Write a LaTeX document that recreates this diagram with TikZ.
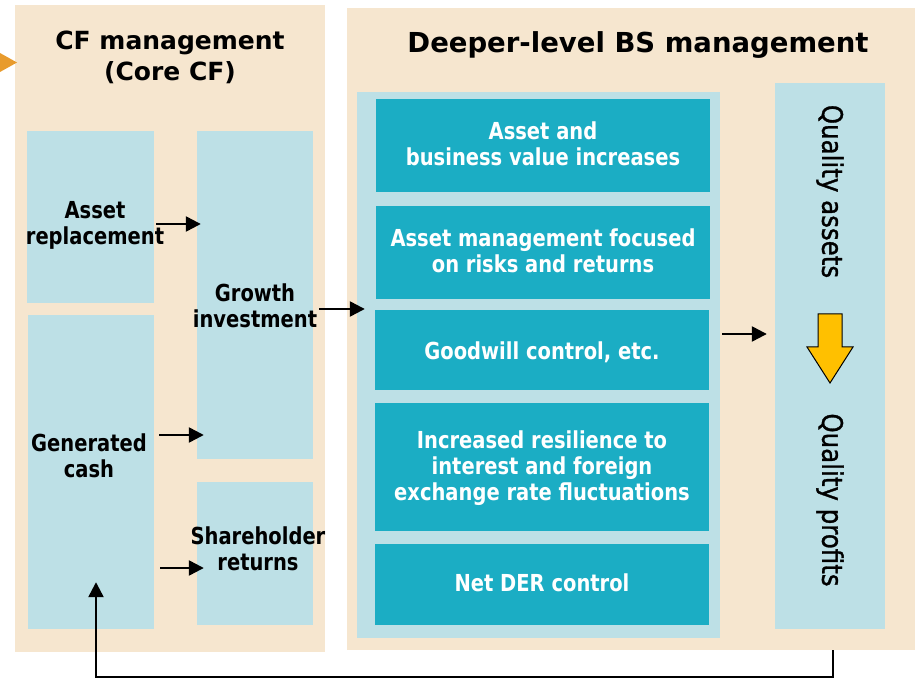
\documentclass[tikz,border=0pt]{standalone}
\usepackage{graphicx}
\usepackage{fontspec}
\setmainfont{DejaVu Sans}
\newfontfamily\qualityfont[FakeBold=1.2]{DejaVu Sans}
\usetikzlibrary{arrows.meta,calc}

\definecolor{panelbg}{RGB}{246,230,207}
\definecolor{paleblue}{RGB}{189,224,230}
\definecolor{boxteal}{RGB}{27,173,196}
\definecolor{gold}{RGB}{255,192,0}
\definecolor{markorange}{RGB}{232,155,45}

% centred lines, set a little taller than the font's natural shape
\newcommand\tallcell[1]{\scalebox{1}[1.2]{\begin{tabular}{@{}c@{}}#1\end{tabular}}}
\newcommand\tallline[1]{\scalebox{1}[1.15]{#1}}

\tikzset{
  panel/.style={rectangle, fill=panelbg, draw=none, inner sep=0pt},
  pale/.style={rectangle, fill=paleblue, draw=none, inner sep=0pt},
  tealbox/.style={rectangle, fill=boxteal, draw=none, inner sep=0pt},
  lbl/.style={inner sep=0pt, font=\bfseries\fontsize{19.5}{21.7}\selectfont},
  wlbl/.style={lbl, text=white},
  vlbl/.style={rotate=-90, inner sep=0pt, font=\qualityfont\fontsize{24.5}{30}\selectfont},
  arr/.style={-{Triangle[length=15pt,width=15pt]}, line width=2.4pt},
}

\begin{document}
\begin{tikzpicture}[x=1pt,y=1pt]
\useasboundingbox (0,0) rectangle (915,678);

% the two management panels
\node[panel, minimum width=310pt, minimum height=647pt] (cfp) at (170,349.5) {};
\node[panel, minimum width=568pt, minimum height=642pt] (bsp) at (631,349) {};
\fill[markorange] (0,625) -- (17,615.5) -- (0,606) -- cycle;

\node[align=center, inner sep=0pt, font=\bfseries\fontsize{25}{31}\selectfont] (cft) at (170,620.5) {CF management\\(Core CF)};
\node[inner sep=0pt, font=\bfseries\fontsize{27.5}{33}\selectfont] (bst) at (638,633) {Deeper-level BS management};

% cash flow blocks
\node[pale, minimum width=127pt, minimum height=172pt] (ar) at (90.5,461) {};
\node[pale, minimum width=126pt, minimum height=314pt] (gc) at (91,206) {};
\node[pale, minimum width=116pt, minimum height=328pt] (gi) at (255,383) {};
\node[pale, minimum width=116pt, minimum height=143pt] (sr) at (255,124.5) {};

\node[lbl] (art) at (95,452) {\tallcell{Asset\\replacement}};
\node[lbl] (gct) at (89,219) {\tallcell{Generated\\cash}};
\node[lbl] (git) at (255,369) {\tallcell{Growth\\investment}};
\node[lbl] (srt) at (258,126) {\tallcell{Shareholder\\returns}};

% balance sheet measures
\node[pale, minimum width=363pt, minimum height=546pt] (inner) at (538.5,313) {};
\node[tealbox, minimum width=334pt, minimum height=93pt] (b1) at (543,532.5) {};
\node[tealbox, minimum width=334pt, minimum height=93pt] (b2) at (543,425.5) {};
\node[tealbox, minimum width=334pt, minimum height=80pt] (b3) at (542,328) {};
\node[tealbox, minimum width=334pt, minimum height=128pt] (b4) at (542,211) {};
\node[tealbox, minimum width=334pt, minimum height=81pt] (b5) at (542,93.5) {};

\node[wlbl] (b1t) at ($(b1.center)+(0,-2)$) {\tallcell{Asset and\\business value increases}};
\node[wlbl] (b2t) at ($(b2.center)+(0,-2)$) {\tallcell{Asset management focused\\on risks and returns}};
\node[wlbl] (b3t) at ($(b3.center)+(0,-4)$) {\tallcell{Goodwill control, etc.}};
\node[wlbl] (b4t) at ($(b4.center)+(0,-2)$) {\tallcell{Increased resilience to\\interest and foreign\\exchange rate fluctuations}};
\node[wlbl] (b5t) at ($(b5.center)+(0,-2)$) {\tallcell{Net DER control}};

% quality column
\node[pale, minimum width=110pt, minimum height=546pt] (qb) at (830,322) {};
\node[vlbl] (qa) at (830,486.5) {\tallline{Quality assets}};
\node[vlbl] (qp) at (830,178) {\tallline{Quality profits}};
\draw[fill=gold, line width=1pt] (818,364) -- (842,364) -- (842,331) -- (853,331)
  -- (830,295) -- (807,331) -- (818,331) -- cycle;

% connectors
\coordinate (a1) at ($(ar.east)+(2,-7)$);
\draw[arr] (a1) -- ($(a1 -| gi.west)+(4,0)$);
\coordinate (a2) at ($(gi.east)+(6,-14)$);
\draw[arr] (a2) -- ($(a2 -| inner.west)+(8,0)$);
\coordinate (a3) at ($(gc.east)+(5,37)$);
\draw[arr] (a3) -- ($(a3 -| gi.west)+(7,0)$);
\coordinate (a4) at ($(gc.east)+(6,-96)$);
\draw[arr] (a4) -- ($(a4 -| sr.west)+(7,0)$);
\coordinate (a5) at ($(inner.east)+(2,31)$);
\draw[arr] (a5) -- ($(a5 -| qb.west)+(-8,0)$);

% feedback loop back to generated cash
\coordinate (fs) at ($(qb.center |- bsp.south)+(3,0)$);
\coordinate (fb) at ($(fs)+(0,-27)$);
\draw[arr] (fs) -- (fb) -| ($(gc.south)+(5,47)$);
\end{tikzpicture}
\end{document}
